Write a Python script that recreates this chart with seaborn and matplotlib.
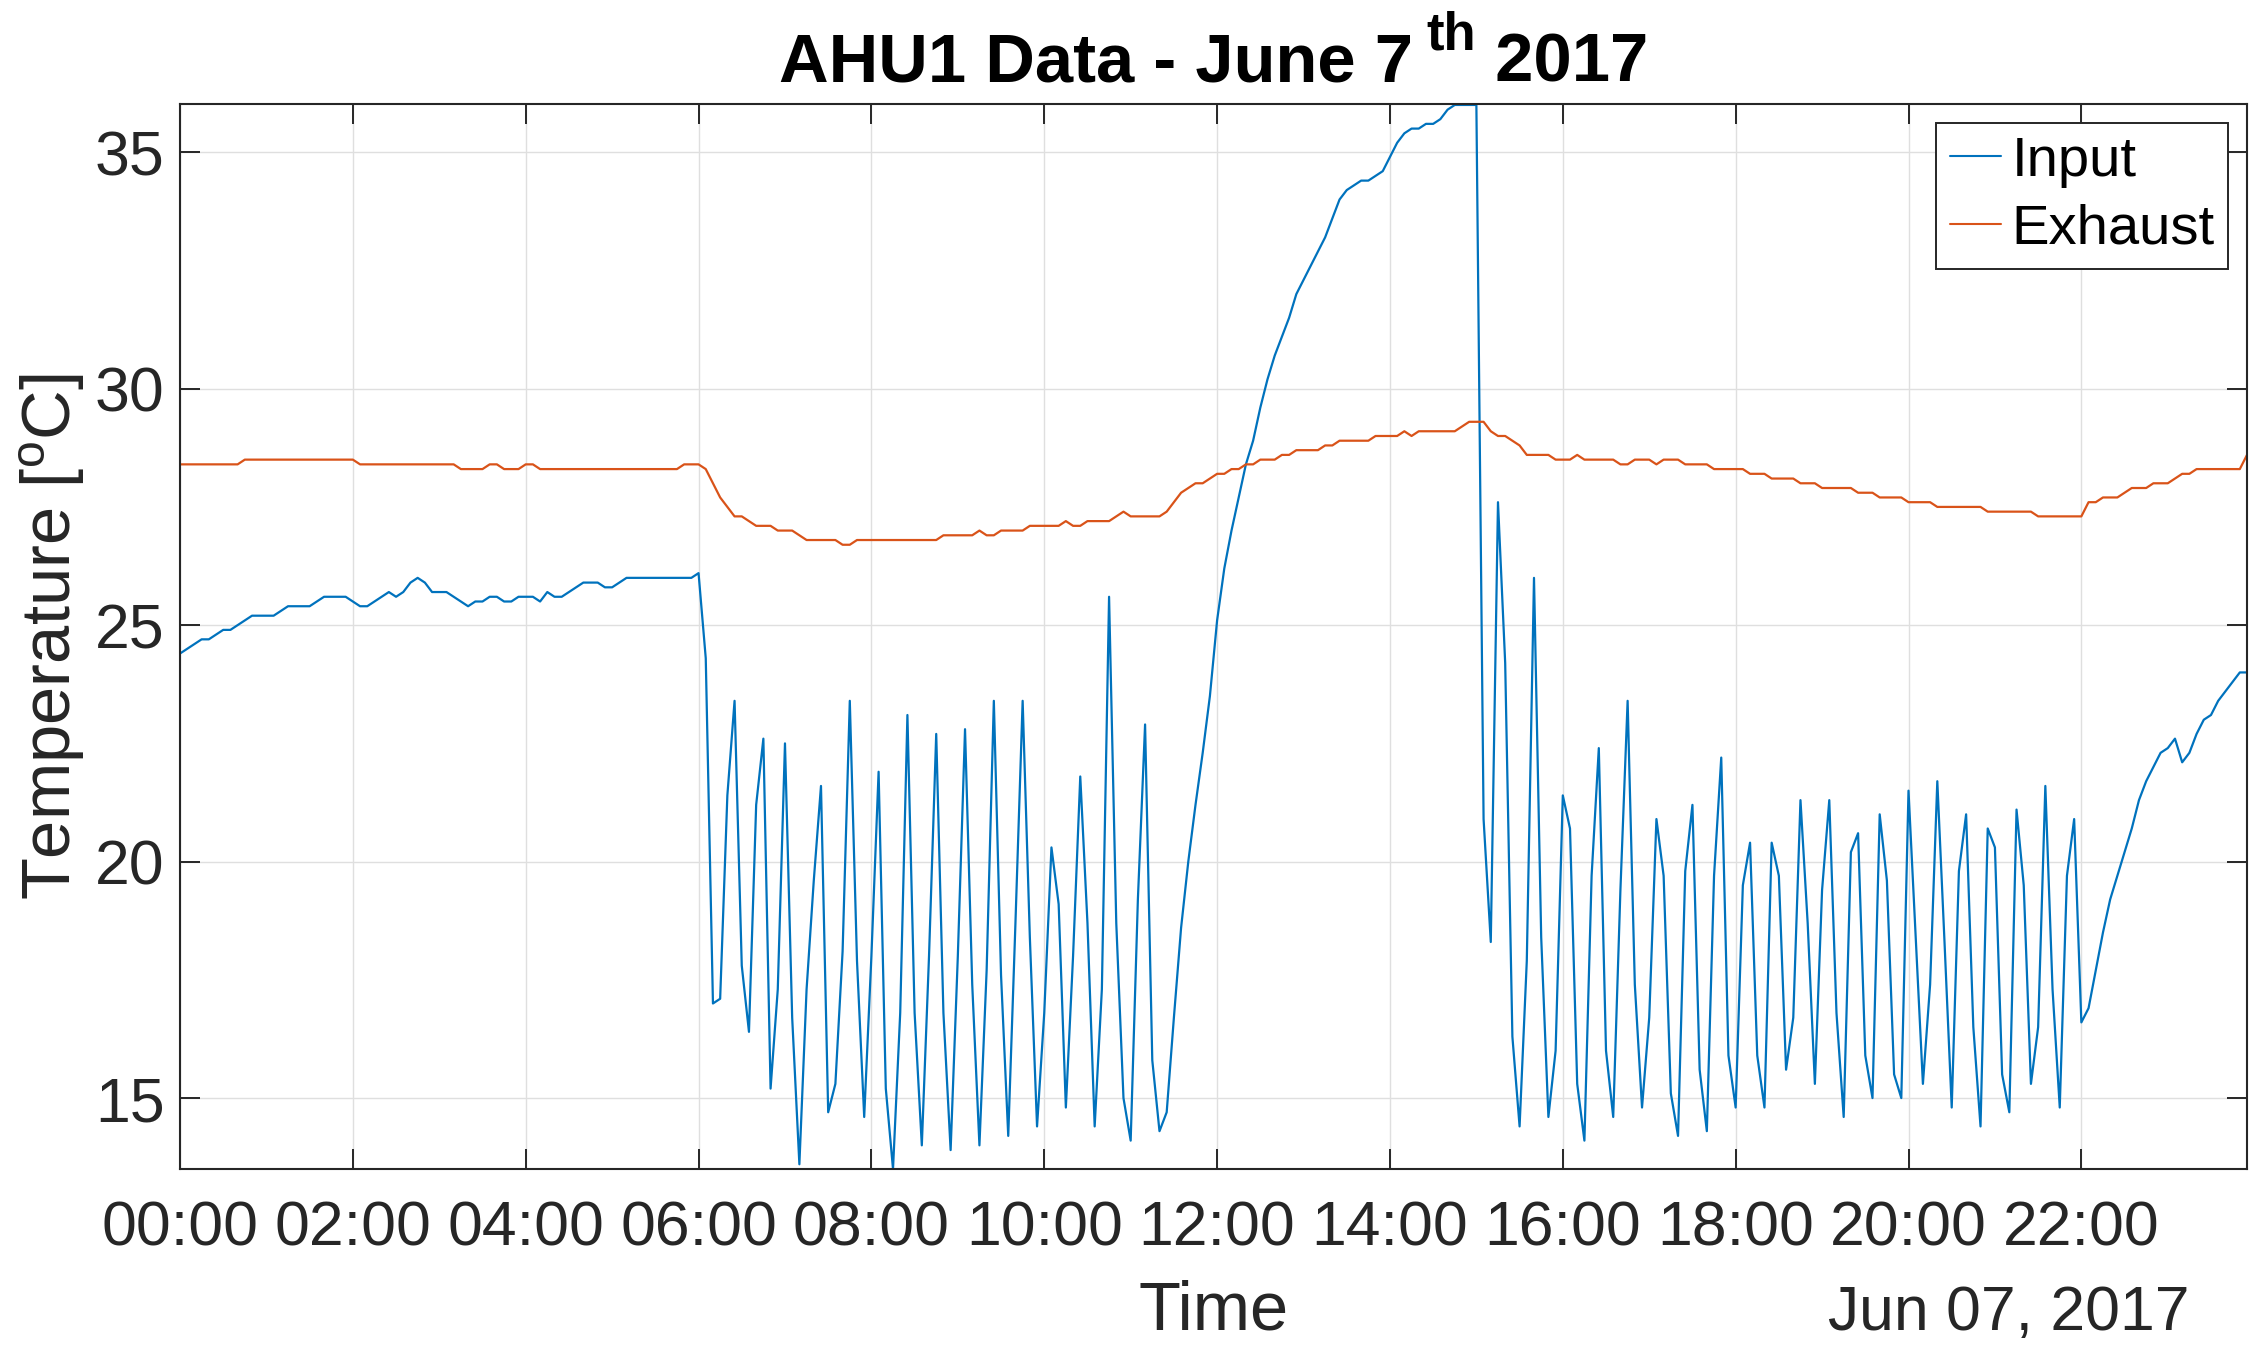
import numpy as np
import pandas as pd
import matplotlib
matplotlib.use("Agg")
import matplotlib.pyplot as plt
import seaborn as sns

# ---------------- data (5-minute samples, 00:00 .. 23:55) ----------------
input_temp = [
    24.4, 24.5, 24.6, 24.7, 24.7, 24.8, 24.9, 24.9, 25.0, 25.1, 25.2, 25.2,
    25.2, 25.2, 25.3, 25.4, 25.4, 25.4, 25.4, 25.5, 25.6, 25.6, 25.6, 25.6,
    25.5, 25.4, 25.4, 25.5, 25.6, 25.7, 25.6, 25.7, 25.9, 26.0, 25.9, 25.7,
    25.7, 25.7, 25.6, 25.5, 25.4, 25.5, 25.5, 25.6, 25.6, 25.5, 25.5, 25.6,
    25.6, 25.6, 25.5, 25.7, 25.6, 25.6, 25.7, 25.8, 25.9, 25.9, 25.9, 25.8,
    25.8, 25.9, 26.0, 26.0, 26.0, 26.0, 26.0, 26.0, 26.0, 26.0, 26.0, 26.0,
    26.1, 24.3, 17.0, 17.1, 21.4, 23.4, 17.8, 16.4, 21.2, 22.6, 15.2, 17.3,
    22.5, 16.7, 13.6, 17.3, 19.6, 21.6, 14.7, 15.3, 18.1, 23.4, 17.9, 14.6,
    18.0, 21.9, 15.2, 13.5, 16.8, 23.1, 16.8, 14.0, 18.0, 22.7, 16.8, 13.9,
    18.0, 22.8, 17.4, 14.0, 17.7, 23.4, 17.6, 14.2, 18.7, 23.4, 18.4, 14.4,
    16.8, 20.3, 19.1, 14.8, 18.0, 21.8, 18.7, 14.4, 17.3, 25.6, 18.7, 15.0,
    14.1, 19.2, 22.9, 15.8, 14.3, 14.7, 16.7, 18.6, 20.0, 21.2, 22.3, 23.5,
    25.1, 26.2, 27.0, 27.7, 28.4, 28.9, 29.6, 30.2, 30.7, 31.1, 31.5, 32.0,
    32.3, 32.6, 32.9, 33.2, 33.6, 34.0, 34.2, 34.3, 34.4, 34.4, 34.5, 34.6,
    34.9, 35.2, 35.4, 35.5, 35.5, 35.6, 35.6, 35.7, 35.9, 36.0, 36.0, 36.0,
    36.0, 20.9, 18.3, 27.6, 24.2, 16.3, 14.4, 17.9, 26.0, 18.4, 14.6, 16.0,
    21.4, 20.7, 15.3, 14.1, 19.7, 22.4, 16.0, 14.6, 19.4, 23.4, 17.4, 14.8,
    16.7, 20.9, 19.7, 15.1, 14.2, 19.8, 21.2, 15.6, 14.3, 19.7, 22.2, 15.9,
    14.8, 19.5, 20.4, 15.9, 14.8, 20.4, 19.7, 15.6, 16.7, 21.3, 18.7, 15.3,
    19.4, 21.3, 16.8, 14.6, 20.2, 20.6, 15.9, 15.0, 21.0, 19.6, 15.5, 15.0,
    21.5, 18.4, 15.3, 17.4, 21.7, 18.3, 14.8, 19.8, 21.0, 16.5, 14.4, 20.7,
    20.3, 15.5, 14.7, 21.1, 19.5, 15.3, 16.5, 21.6, 17.3, 14.8, 19.7, 20.9,
    16.6, 16.9, 17.7, 18.5, 19.2, 19.7, 20.2, 20.7, 21.3, 21.7, 22.0, 22.3,
    22.4, 22.6, 22.1, 22.3, 22.7, 23.0, 23.1, 23.4, 23.6, 23.8, 24.0, 24.0,
]

exhaust_temp = [
    28.4, 28.4, 28.4, 28.4, 28.4, 28.4, 28.4, 28.4, 28.4, 28.5, 28.5, 28.5,
    28.5, 28.5, 28.5, 28.5, 28.5, 28.5, 28.5, 28.5, 28.5, 28.5, 28.5, 28.5,
    28.5, 28.4, 28.4, 28.4, 28.4, 28.4, 28.4, 28.4, 28.4, 28.4, 28.4, 28.4,
    28.4, 28.4, 28.4, 28.3, 28.3, 28.3, 28.3, 28.4, 28.4, 28.3, 28.3, 28.3,
    28.4, 28.4, 28.3, 28.3, 28.3, 28.3, 28.3, 28.3, 28.3, 28.3, 28.3, 28.3,
    28.3, 28.3, 28.3, 28.3, 28.3, 28.3, 28.3, 28.3, 28.3, 28.3, 28.4, 28.4,
    28.4, 28.3, 28.0, 27.7, 27.5, 27.3, 27.3, 27.2, 27.1, 27.1, 27.1, 27.0,
    27.0, 27.0, 26.9, 26.8, 26.8, 26.8, 26.8, 26.8, 26.7, 26.7, 26.8, 26.8,
    26.8, 26.8, 26.8, 26.8, 26.8, 26.8, 26.8, 26.8, 26.8, 26.8, 26.9, 26.9,
    26.9, 26.9, 26.9, 27.0, 26.9, 26.9, 27.0, 27.0, 27.0, 27.0, 27.1, 27.1,
    27.1, 27.1, 27.1, 27.2, 27.1, 27.1, 27.2, 27.2, 27.2, 27.2, 27.3, 27.4,
    27.3, 27.3, 27.3, 27.3, 27.3, 27.4, 27.6, 27.8, 27.9, 28.0, 28.0, 28.1,
    28.2, 28.2, 28.3, 28.3, 28.4, 28.4, 28.5, 28.5, 28.5, 28.6, 28.6, 28.7,
    28.7, 28.7, 28.7, 28.8, 28.8, 28.9, 28.9, 28.9, 28.9, 28.9, 29.0, 29.0,
    29.0, 29.0, 29.1, 29.0, 29.1, 29.1, 29.1, 29.1, 29.1, 29.1, 29.2, 29.3,
    29.3, 29.3, 29.1, 29.0, 29.0, 28.9, 28.8, 28.6, 28.6, 28.6, 28.6, 28.5,
    28.5, 28.5, 28.6, 28.5, 28.5, 28.5, 28.5, 28.5, 28.4, 28.4, 28.5, 28.5,
    28.5, 28.4, 28.5, 28.5, 28.5, 28.4, 28.4, 28.4, 28.4, 28.3, 28.3, 28.3,
    28.3, 28.3, 28.2, 28.2, 28.2, 28.1, 28.1, 28.1, 28.1, 28.0, 28.0, 28.0,
    27.9, 27.9, 27.9, 27.9, 27.9, 27.8, 27.8, 27.8, 27.7, 27.7, 27.7, 27.7,
    27.6, 27.6, 27.6, 27.6, 27.5, 27.5, 27.5, 27.5, 27.5, 27.5, 27.5, 27.4,
    27.4, 27.4, 27.4, 27.4, 27.4, 27.4, 27.3, 27.3, 27.3, 27.3, 27.3, 27.3,
    27.3, 27.6, 27.6, 27.7, 27.7, 27.7, 27.8, 27.9, 27.9, 27.9, 28.0, 28.0,
    28.0, 28.1, 28.2, 28.2, 28.3, 28.3, 28.3, 28.3, 28.3, 28.3, 28.3, 28.6,
]

series_names = ["Input", "Exhaust"]
series_colors = ["#0072BD", "#D95319"]
x_tick_labels = ["00:00", "02:00", "04:00", "06:00", "08:00", "10:00",
                 "12:00", "14:00", "16:00", "18:00", "20:00", "22:00"]
y_ticks = [15, 20, 25, 30, 35]
title_main = "AHU1 Data - June 7"
title_sup = "th"
title_tail = " 2017"
x_label = "Time"
y_label = r"Temperature [$^{\mathrm{o}}$C]"
date_label = "Jun 07, 2017"

# ---------------- build frame ----------------
times = pd.date_range("2017-06-07 00:00", periods=len(input_temp), freq="5min")
df = pd.DataFrame({
    "Time": list(times) + list(times),
    "Temperature": input_temp + exhaust_temp,
    "Series": [series_names[0]] * len(input_temp) + [series_names[1]] * len(exhaust_temp),
})

# ---------------- style ----------------
sns.set_theme(style="white")
plt.rcParams["font.family"] = ["Liberation Sans", "DejaVu Sans"]
plt.rcParams["mathtext.fontset"] = "custom"
plt.rcParams["mathtext.rm"] = "Liberation Sans"
plt.rcParams["mathtext.it"] = "Liberation Sans:italic"
plt.rcParams["mathtext.bf"] = "Liberation Sans:bold"

axis_color = "#262626"
W, H = 2262, 1345
fig = plt.figure(figsize=(W / 100, H / 100), dpi=100)
ax_left, ax_right, ax_top, ax_bottom = 180, 2247, 104, 1169
ax = fig.add_axes([ax_left / W, 1 - ax_bottom / H,
                   (ax_right - ax_left) / W, (ax_bottom - ax_top) / H])

sns.lineplot(data=df, x="Time", y="Temperature", hue="Series",
             hue_order=series_names, palette=series_colors,
             linewidth=1.6, estimator=None, sort=False, ax=ax)

ax.set_xlim(times[0], times[-1])
ax.set_ylim(13.5, 36.02)
tick_times = pd.date_range("2017-06-07 00:00", periods=len(x_tick_labels), freq="2h")
ax.set_xticks(list(tick_times))
ax.set_xticklabels(x_tick_labels)
ax.set_yticks(y_ticks)
ax.set_yticklabels([str(v) for v in y_ticks])

ax.grid(True, color="#DFDFDF", linewidth=1.0)
ax.set_axisbelow(True)
for sp in ax.spines.values():
    sp.set_color(axis_color)
    sp.set_linewidth(1.5)
    sp.set_visible(True)

ax.tick_params(axis="both", which="major", direction="in", length=14.5,
               width=1.4, color=axis_color, labelcolor=axis_color,
               labelsize=45, top=True, right=True, bottom=True, left=True)
ax.tick_params(axis="x", pad=22)
ax.tick_params(axis="y", pad=11)

ax.set_xlabel(x_label, fontsize=49.5, color=axis_color)
ax.xaxis.label.set_va("baseline")
ax.xaxis.set_label_coords(0.5, (ax_bottom - 1330) / (ax_bottom - ax_top))
ax.set_ylabel(y_label, fontsize=49.5, color=axis_color)
ax.yaxis.set_label_coords((87 - ax_left) / (ax_right - ax_left), 0.5)

# ---------------- title with raised superscript (MATLAB-like) ----------------
fig.canvas.draw()
renderer = fig.canvas.get_renderer()
t_kw = dict(va="baseline", fontweight="bold", color="black")
t1 = fig.text(0, 1 - 81 / H, title_main, ha="left", fontsize=49.5, **t_kw)
t2 = fig.text(0, 1 - 50 / H, title_sup, ha="left", fontsize=38, **t_kw)
t3 = fig.text(0, 1 - 81 / H, title_tail, ha="left", fontsize=49.5, **t_kw)
w1 = t1.get_window_extent(renderer).width
w2 = t2.get_window_extent(renderer).width
w3 = t3.get_window_extent(renderer).width
gap = 14
total = w1 + gap + w2 + w3
x0 = 1213.5 - total / 2
t1.set_x(x0 / W)
t2.set_x((x0 + w1 + gap) / W)
t3.set_x((x0 + w1 + gap + w2) / W)

fig.text(2190 / W, 1 - 1330 / H, date_label, ha="right", va="baseline",
         fontsize=45, color=axis_color)

handles, labels = ax.get_legend_handles_labels()
leg = ax.legend(handles, labels, loc="upper right", fontsize=40.5,
                frameon=True, fancybox=False, framealpha=1,
                edgecolor=axis_color, borderaxespad=0.33, borderpad=0.24,
                handlelength=0.9, handletextpad=0.2, labelspacing=0.27)
leg.get_frame().set_linewidth(1.4)
for line in leg.get_lines():
    line.set_linewidth(1.5)
for txt in leg.get_texts():
    txt.set_color("black")

fig.savefig("out.png", dpi=100, facecolor="white")
